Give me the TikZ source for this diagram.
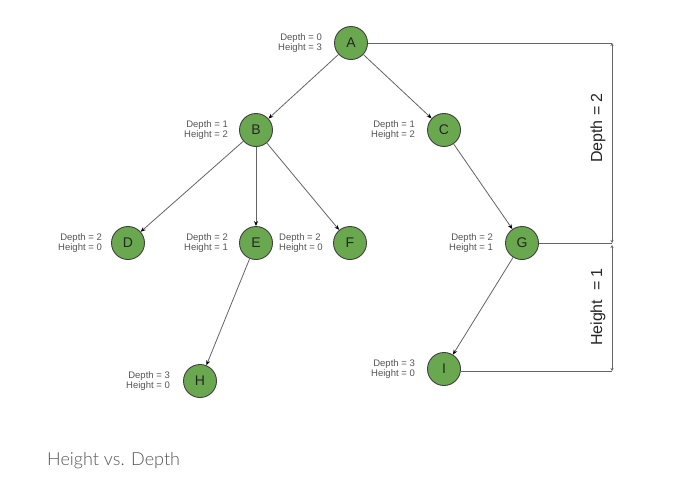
\documentclass[tikz,border=0pt]{standalone}
\usepackage{fontspec}
\setmainfont{Liberation Sans}
\newfontfamily\capfont{Lato Light}
\usetikzlibrary{arrows.meta}
\definecolor{nodegreen}{RGB}{106,168,79}
\definecolor{edgegray}{RGB}{100,100,100}
\definecolor{txtgray}{RGB}{85,85,85}
\begin{document}
\begin{tikzpicture}[x=1pt,y=-1pt,
  tn/.style={circle,draw=black!75,line width=0.9pt,fill=nodegreen,minimum size=33pt,inner sep=0pt,font=\fontsize{14}{14}\selectfont,text=black!85},
  lbl/.style={font=\fontsize{9.5}{10.5}\selectfont,text=txtgray,align=right,inner sep=0pt},
  lbll/.style={lbl,align=left},
  edge/.style={draw=edgegray,line width=0.8pt,-{Stealth[length=5pt,width=4pt,black]}},
  dim/.style={draw=edgegray,line width=0.8pt,{Stealth[length=3pt,width=3pt]}-{Stealth[length=3pt,width=3pt]}},
  hline/.style={draw=edgegray,line width=0.8pt}]
\useasboundingbox (0,0) rectangle (683,498);
\fill[white] (0,0) rectangle (683,498);
\node[tn] (A) at (351,43) {A};
\node[tn] (B) at (256,130) {B};
\node[tn] (C) at (444,130) {C};
\node[tn] (D) at (128,243) {D};
\node[tn] (E) at (256,243) {E};
\node[tn] (F) at (350,243) {F};
\node[tn] (G) at (522,243) {G};
\node[tn] (H) at (200,381) {H};
\node[tn] (I) at (444,369) {I};
\node[lbl,anchor=east] (lA) at (322,43) {Depth = 0\\Height = 3};
\node[lbl,anchor=east] (lB) at (228,130) {Depth = 1\\Height = 2};
\node[lbl,anchor=east] (lC) at (415,130) {Depth = 1\\Height = 2};
\node[lbl,anchor=east] (lD) at (102,243) {Depth = 2\\Height = 0};
\node[lbl,anchor=east] (lE) at (228,243) {Depth = 2\\Height = 1};
\node[lbll,anchor=west] (lF) at (279,243) {Depth = 2\\Height = 0};
\node[lbl,anchor=east] (lG) at (493,243) {Depth = 2\\Height = 1};
\node[lbl,anchor=east] (lH) at (170,381) {Depth = 3\\Height = 0};
\node[lbl,anchor=east] (lI) at (415,369) {Depth = 3\\Height = 0};
\draw[edge] (A) -- (B);
\draw[edge] (A) -- (C);
\draw[edge] (B) -- (D);
\draw[edge] (B) -- (E);
\draw[edge] (B) -- (F);
\draw[edge] (C) -- (G);
\draw[edge] (E) -- (H);
\draw[edge] (G) -- (I);
\coordinate (pA) at (612,43);
\coordinate (pG) at (612,243);
\coordinate (pG2) at (612,245);
\coordinate (pI) at (612,371);
\draw[hline] (A.east) -- (pA);
\draw[hline] (G.east) -- (pG);
\draw[hline] (I.east |- pI) -- (pI);
\draw[dim] (pA) -- (pG);
\draw[dim] (pG2) -- (pI);
\node[rotate=90,font=\fontsize{16}{16}\selectfont,text=black!85] (dl) at (598,128) {Depth = 2};
\node[rotate=90,font=\fontsize{16}{16}\selectfont,text=black!85] (hl) at (598,307) {Height \ = 1};
\node[anchor=west,font=\capfont\fontsize{18}{18}\selectfont,text=txtgray,inner sep=0pt] (cap) at (47,461) {Height vs. Depth};
\end{tikzpicture}
\end{document}
